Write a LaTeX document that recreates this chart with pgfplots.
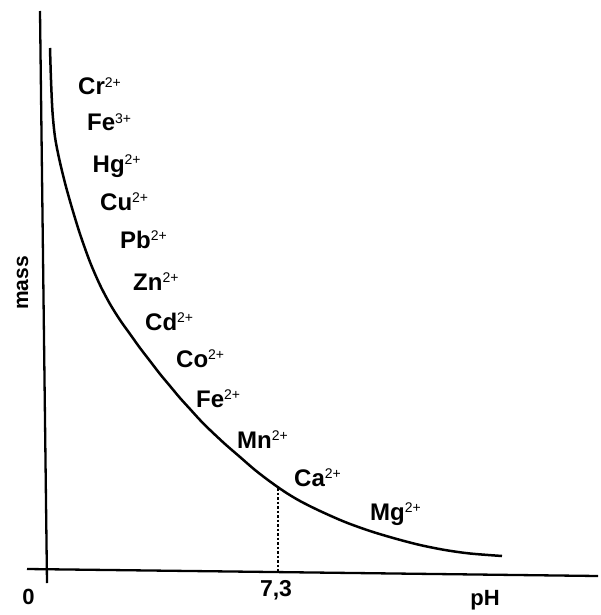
\documentclass[border=0pt]{standalone}
\usepackage{pgfplots}
\pgfplotsset{compat=1.18}
\usepackage{fontspec}
\setmainfont{Liberation Sans}
\newcommand{\ion}[2]{{\fontsize{24}{24}\selectfont\bfseries #1}\raisebox{7.3pt}{\fontsize{14}{14}\selectfont\mdseries #2}}
\begin{document}
\begin{tikzpicture}
\begin{axis}[
  width=600pt, height=615pt, scale only axis,
  xmin=0, xmax=600, ymin=0, ymax=615, y dir=reverse,
  hide axis, clip=false,
]
\path (rel axis cs:0,0) rectangle (rel axis cs:1,1);
% axes
\addplot[black, line width=2.3pt] coordinates {(27,569) (598,576)};
\addplot[black, line width=2.3pt] coordinates {(40,11) (47,583)};
% curve
\addplot[black, line width=2.5pt, smooth, tension=0.5] coordinates {
(50,48) (51,80) (52.5,112) (55,137) (59,158) (65,183) (72,208) (80,234) (90,262)
(100,285) (110,304) (120,320) (130,334) (140,348) (150,361) (160,374) (170,386)
(180,398) (190,409) (200,420) (210,430) (225,444) (240,457) (255,470) (270,481.5)
(285,492) (300,501) (320,511) (345,522) (370,531) (395,538.5) (420,545) (445,550)
(470,553.5) (502,556)};
% dotted line
\addplot[black, line width=2.6pt, dash pattern=on 2.5pt off 2pt] coordinates {(278,488) (278,571)};
% ion labels
\node[anchor=base west, inner sep=0] at (axis cs:78,95) {\ion{Cr}{2+}};
\node[anchor=base west, inner sep=0] at (axis cs:87,131) {\ion{Fe}{3+}};
\node[anchor=base west, inner sep=0] at (axis cs:92.5,172) {\ion{Hg}{2+}};
\node[anchor=base west, inner sep=0] at (axis cs:100,210) {\ion{Cu}{2+}};
\node[anchor=base west, inner sep=0] at (axis cs:120,248) {\ion{Pb}{2+}};
\node[anchor=base west, inner sep=0] at (axis cs:133,290) {\ion{Zn}{2+}};
\node[anchor=base west, inner sep=0] at (axis cs:145,330) {\ion{Cd}{2+}};
\node[anchor=base west, inner sep=0] at (axis cs:176,367) {\ion{Co}{2+}};
\node[anchor=base west, inner sep=0] at (axis cs:196,407) {\ion{Fe}{2+}};
\node[anchor=base west, inner sep=0] at (axis cs:237,448) {\ion{Mn}{2+}};
\node[anchor=base west, inner sep=0] at (axis cs:294,486) {\ion{Ca}{2+}};
\node[anchor=base west, inner sep=0] at (axis cs:370,520) {\ion{Mg}{2+}};
% axis texts
\node[anchor=base, inner sep=0, rotate=90, font=\fontsize{21}{21}\selectfont\bfseries] at (axis cs:28,283) {mass};
\node[anchor=base, inner sep=0, font=\fontsize{22}{22}\selectfont\bfseries] at (axis cs:28.5,604) {0};
\node[anchor=base, inner sep=0, font=\fontsize{23}{23}\selectfont\bfseries] at (axis cs:276,596.5) {7,3};
\node[anchor=base, inner sep=0, font=\fontsize{22}{22}\selectfont\bfseries] at (axis cs:485,605) {pH};
\end{axis}
\end{tikzpicture}
\end{document}
